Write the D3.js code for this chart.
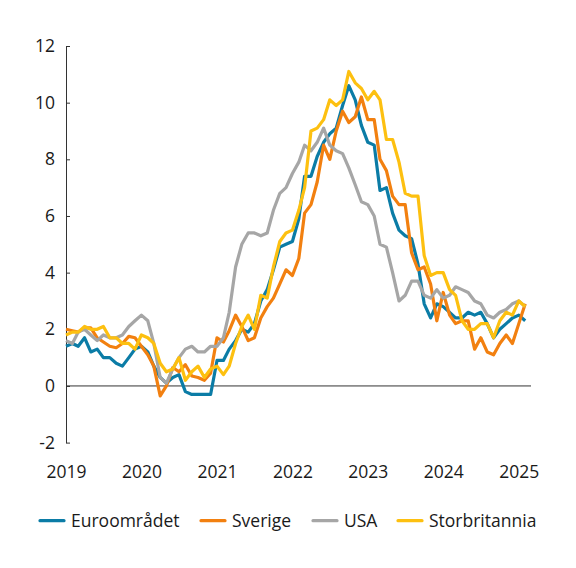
<!DOCTYPE html>
<html>
<head>
<meta charset="utf-8">
<script src="https://cdn.jsdelivr.net/npm/d3@7"></script>
<style>
  html, body { margin: 0; padding: 0; background: #fff; }
  svg text { font-family: "Open Sans", "Noto Sans", sans-serif; fill: #1a1a1a; }
</style>
</head>
<body>
<svg id="chart" width="576" height="568"></svg>
<script>
// ---- Data (monthly, Jan 2019 – Feb 2025, annual % change) ----
const startYear = 2019;
const yearTicks = [2019, 2020, 2021, 2022, 2023, 2024, 2025];
const yTicks = [-2, 0, 2, 4, 6, 8, 10, 12];

const seriesNames = ["Euroområdet", "Sverige", "USA", "Storbritannia"];
const seriesColors = ["#0b7ca6", "#f28010", "#a6a6a6", "#fdc010"];

const euro = [
  1.4,1.5,1.4,1.7,1.2,1.3,1.0,1.0,0.8,0.7,1.0,1.3,
  1.4,1.2,0.7,0.3,0.1,0.3,0.4,-0.2,-0.3,-0.3,-0.3,-0.3,
  0.9,0.9,1.3,1.6,2.0,1.9,2.2,3.0,3.4,4.1,4.9,5.0,
  5.1,5.9,7.4,7.4,8.1,8.6,8.9,9.1,9.9,10.6,10.1,9.2,
  8.6,8.5,6.9,7.0,6.1,5.5,5.3,5.2,4.3,2.9,2.4,2.9,
  2.8,2.6,2.4,2.4,2.6,2.5,2.6,2.2,1.7,2.0,2.2,2.4,
  2.5,2.3
];
const sverige = [
  2.0,1.95,1.9,2.05,2.05,1.7,1.55,1.4,1.35,1.5,1.75,1.7,
  1.4,1.1,0.7,-0.35,0.0,0.65,0.5,0.75,0.35,0.3,0.2,0.45,
  1.7,1.55,1.95,2.5,2.1,1.6,1.7,2.4,2.8,3.1,3.6,4.1,
  3.9,4.5,6.1,6.4,7.2,8.5,8.0,9.0,9.7,9.3,9.5,10.2,
  9.4,9.4,8.0,7.6,6.7,6.4,6.4,4.7,4.1,4.2,3.6,2.3,
  3.3,2.5,2.2,2.3,2.3,1.3,1.7,1.2,1.1,1.5,1.8,1.5,
  2.2,2.9
];
const usa = [
  1.6,1.5,1.9,2.0,1.8,1.6,1.8,1.7,1.7,1.8,2.1,2.3,
  2.5,2.3,1.5,0.3,0.1,0.6,1.0,1.3,1.4,1.2,1.2,1.4,
  1.4,1.7,2.6,4.2,5.0,5.4,5.4,5.3,5.4,6.2,6.8,7.0,
  7.5,7.9,8.5,8.3,8.6,9.1,8.5,8.3,8.2,7.7,7.1,6.5,
  6.4,6.0,5.0,4.9,4.0,3.0,3.2,3.7,3.7,3.2,3.1,3.4,
  3.1,3.2,3.5,3.4,3.3,3.0,2.9,2.5,2.4,2.6,2.7,2.9,
  3.0,2.8
];
const storbritannia = [
  1.8,1.9,1.9,2.1,2.0,2.0,2.1,1.7,1.7,1.5,1.5,1.3,
  1.8,1.7,1.5,0.8,0.5,0.6,1.0,0.2,0.5,0.7,0.3,0.6,
  0.7,0.4,0.7,1.5,2.1,2.5,2.0,3.2,3.1,4.2,5.1,5.4,
  5.5,6.2,7.0,9.0,9.1,9.4,10.1,9.9,10.1,11.1,10.7,10.5,
  10.1,10.4,10.1,8.7,8.7,7.9,6.8,6.7,6.7,4.6,3.9,4.0,
  4.0,3.4,3.2,2.3,2.0,2.0,2.2,2.2,1.7,2.3,2.6,2.5,
  3.0,2.8
];
const seriesValues = [euro, sverige, usa, storbritannia];

// ---- Layout ----
const svg = d3.select("#chart");
const plot = { left: 66, right: 531, top: 46, bottom: 442.6 };
const fontSize = 17.5;

const monthDate = i => new Date(Date.UTC(startYear, i, 1));
const x = d3.scaleUtc()
  .domain([new Date(Date.UTC(2019, 0, 1)), new Date(Date.UTC(2025, 2, 1))])
  .range([plot.left, plot.right]);
const y = d3.scaleLinear().domain([-2, 12]).range([plot.bottom, plot.top]);

// Y axis
const yAxis = d3.axisLeft(y)
  .tickValues(yTicks)
  .tickFormat(d => d < 0 ? "-" + Math.abs(d) : String(d))
  .tickSizeInner(-4)
  .tickSizeOuter(0)
  .tickPadding(11);
const gy = svg.append("g")
  .attr("transform", `translate(${plot.left},0)`)
  .call(yAxis);
gy.select(".domain").attr("stroke", "#333").attr("stroke-width", 1);
gy.selectAll(".tick line").attr("stroke", "#333").attr("stroke-width", 1);
gy.selectAll(".tick text").attr("font-size", fontSize).attr("fill", "#1a1a1a")
  .style("font-family", '"Open Sans", sans-serif');

// X axis labels (no ticks)
const xAxis = d3.axisBottom(x)
  .tickValues(yearTicks.map(yr => new Date(Date.UTC(yr, 0, 1))))
  .tickFormat(d3.utcFormat("%Y"))
  .tickSize(0)
  .tickPadding(23);
const gx = svg.append("g")
  .attr("transform", `translate(0,${plot.bottom})`)
  .call(xAxis);
gx.select(".domain").remove();
gx.selectAll(".tick text").attr("font-size", fontSize).attr("fill", "#1a1a1a")
  .style("font-family", '"Open Sans", sans-serif');

// Zero line
svg.append("line")
  .attr("x1", plot.left).attr("x2", plot.right)
  .attr("y1", y(0)).attr("y2", y(0))
  .attr("stroke", "#333").attr("stroke-width", 1);

// Lines
const line = d3.line()
  .x((d, i) => x(monthDate(i)))
  .y(d => y(d));

seriesValues.forEach((vals, k) => {
  svg.append("path")
    .datum(vals)
    .attr("fill", "none")
    .attr("stroke", seriesColors[k])
    .attr("stroke-width", 3.2)
    .attr("stroke-linejoin", "round")
    .attr("d", line);
});

// Legend
const legendY = 520.7;
const legendX = [40, 201, 313, 398];
seriesNames.forEach((name, k) => {
  const g = svg.append("g").attr("transform", `translate(${legendX[k]},${legendY})`);
  g.append("line")
    .attr("x1", 0).attr("x2", 24)
    .attr("y1", 0).attr("y2", 0)
    .attr("stroke", seriesColors[k])
    .attr("stroke-width", 3.2)
    .attr("stroke-linecap", "round");
  g.append("text")
    .attr("x", 31)
    .attr("y", 0)
    .attr("dy", "0.35em")
    .attr("font-size", fontSize)
    .text(name);
});
</script>
</body>
</html>
